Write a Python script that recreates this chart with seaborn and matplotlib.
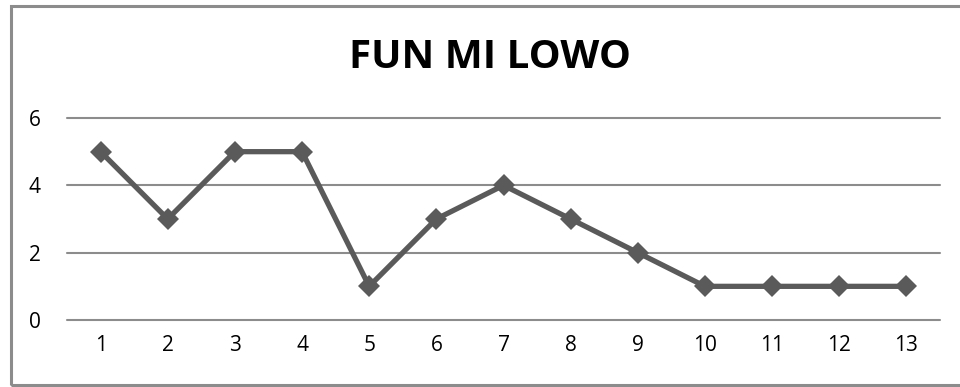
import matplotlib
matplotlib.use("Agg")
import matplotlib.pyplot as plt
import seaborn as sns
import pandas as pd
from matplotlib.patches import Rectangle

categories = [str(i) for i in range(1, 14)]
values = [5, 3, 5, 5, 1, 3, 4, 3, 2, 1, 1, 1, 1]
y_ticks = [0, 2, 4, 6]
title = "FUN MI LOWO"

sns.set_theme(style="white")
plt.rcParams["font.family"] = ["Open Sans", "DejaVu Sans"]

df = pd.DataFrame({"x": range(len(categories)), "y": values})

fig = plt.figure(figsize=(9.6, 3.87), dpi=100)
ax = fig.add_axes([67 / 960, 1 - 320 / 387, (940 - 67) / 960, (320 - 118) / 387])

sns.lineplot(data=df, x="x", y="y", ax=ax, color="#5a5a5a", linewidth=3.8,
             marker="D", markersize=11.5, markeredgewidth=0, zorder=3)

ax.set_xlim(-0.5, len(categories) - 0.5)
ax.set_ylim(0, 6)
ax.set_yticks(y_ticks)
ax.set_yticklabels([str(t) for t in y_ticks], fontsize=15, color="black")
ax.set_xticks(range(len(categories)))
ax.set_xticklabels(categories, fontsize=15, color="black")
ax.tick_params(axis="both", length=0)
ax.tick_params(axis="y", pad=19)
ax.tick_params(axis="x", pad=11)
ax.set_xlabel("")
ax.set_ylabel("")
for s in ax.spines.values():
    s.set_visible(False)
for t in y_ticks:
    ax.axhline(t, color="#8c8c8c", linewidth=1.5, zorder=1, clip_on=False)

fig.text(490 / 960, 1 - 57 / 387, title, ha="center", va="center",
         fontsize=29, fontweight="bold", color="black")

# chart frame
fig.patches.append(Rectangle((11 / 960, 1 - 385 / 387), 1.0, (385 - 6) / 387,
                             transform=fig.transFigure, fill=False,
                             edgecolor="#8c8c8c", linewidth=2.2))

fig.savefig("out.png", dpi=100)
